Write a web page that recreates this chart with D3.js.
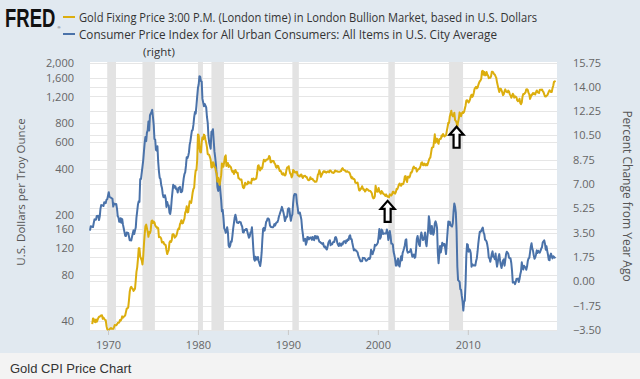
<!DOCTYPE html>
<html>
<head>
<meta charset="utf-8">
<script src="https://cdn.jsdelivr.net/npm/d3@7/dist/d3.min.js"></script>
<style>
  html, body { margin: 0; padding: 0; background: #fff; }
  svg { display: block; }
</style>
</head>
<body>
<svg id="chart" width="640" height="379"></svg>
<script>
// ---------------- DATA ----------------
const goldStart = [1968, 3];   // April 1968 (month index 0-based)
const goldPrices = [
  /*1968*/ 38.0, 41.5, 41.1, 39.5, 39.2, 40.8, 39.4, 40.5, 41.7,
  /*1969*/ 42.5, 42.6, 43.1, 43.4, 43.5, 41.2, 42.0, 41.2, 40.6, 40.4, 36.9, 35.2,
  /*1970*/ 34.9, 35.0, 35.1, 35.6, 35.9, 35.4, 35.4, 35.4, 36.2, 37.5, 37.4, 37.4,
  /*1971*/ 37.9, 38.7, 38.9, 39.0, 40.5, 40.1, 41.0, 42.8, 42.0, 42.5, 42.9, 43.5,
  /*1972*/ 45.8, 48.3, 48.3, 49.0, 54.6, 62.1, 65.7, 67.0, 65.5, 64.9, 62.9, 63.9,
  /*1973*/ 65, 74, 84, 90, 102, 120, 120, 106, 103, 100, 94, 106,
  /*1974*/ 129, 150, 168, 172, 163, 154, 143, 154, 151, 158, 181, 183,
  /*1975*/ 176, 180, 178, 170, 167, 164, 165, 163, 142, 143, 142, 139,
  /*1976*/ 131, 132, 132, 128, 127, 126, 117, 110, 114, 117, 131, 134,
  /*1977*/ 132, 136, 148, 149, 147, 141, 143, 145, 150, 158, 162, 161,
  /*1978*/ 173, 178, 184, 175, 176, 183, 188, 206, 212, 227, 207, 208,
  /*1979*/ 227, 245, 242, 239, 257, 280, 295, 301, 355, 392, 392, 456,
  /*1980*/ 675, 665, 553, 517, 513, 600, 644, 627, 673, 661, 623, 594,
  /*1981*/ 557, 500, 499, 495, 479, 460, 409, 410, 443, 437, 413, 410,
  /*1982*/ 384, 374, 330, 350, 334, 314, 339, 364, 435, 422, 414, 444,
  /*1983*/ 481, 491, 419, 432, 438, 412, 422, 416, 411, 393, 382, 388,
  /*1984*/ 370, 386, 394, 381, 377, 377, 348, 348, 341, 340, 341, 320,
  /*1985*/ 303, 299, 304, 325, 316, 317, 317, 330, 323, 326, 325, 321,
  /*1986*/ 345, 339, 346, 340, 342, 343, 348, 376, 418, 423, 398, 391,
  /*1987*/ 408, 401, 409, 438, 460, 450, 450, 460, 460, 465, 468, 487,
  /*1988*/ 477, 442, 443, 452, 451, 451, 437, 431, 413, 407, 420, 419,
  /*1989*/ 404, 388, 390, 384, 371, 367, 375, 365, 362, 367, 393, 409,
  /*1990*/ 410, 417, 393, 374, 369, 352, 362, 394, 389, 380, 382, 378,
  /*1991*/ 383, 363, 363, 358, 357, 367, 368, 356, 349, 358, 360, 361,
  /*1992*/ 354, 354, 345, 338, 337, 340, 353, 343, 345, 344, 335, 334,
  /*1993*/ 329, 329, 330, 342, 367, 372, 392, 379, 355, 364, 373, 383,
  /*1994*/ 387, 382, 384, 378, 381, 385, 385, 380, 391, 389, 384, 379,
  /*1995*/ 378, 376, 382, 391, 385, 387, 386, 383, 383, 383, 386, 387,
  /*1996*/ 400, 405, 396, 393, 392, 385, 383, 387, 383, 381, 378, 369,
  /*1997*/ 355, 347, 352, 344, 344, 341, 324, 324, 323, 325, 306, 289,
  /*1998*/ 289, 297, 296, 308, 299, 292, 293, 284, 289, 296, 294, 291,
  /*1999*/ 287, 287, 286, 282, 277, 262, 256, 257, 265, 310, 293, 283,
  /*2000*/ 284, 300, 286, 280, 275, 286, 282, 275, 273, 270, 266, 272,
  /*2001*/ 266, 262, 263, 261, 272, 270, 268, 273, 283, 283, 276, 275,
  /*2002*/ 282, 296, 294, 303, 314, 321, 314, 310, 319, 317, 319, 333,
  /*2003*/ 357, 359, 340, 328, 355, 356, 351, 360, 379, 379, 389, 407,
  /*2004*/ 414, 405, 406, 404, 384, 392, 398, 400, 406, 420, 439, 442,
  /*2005*/ 424, 423, 434, 429, 422, 431, 424, 438, 456, 470, 476, 510,
  /*2006*/ 549, 555, 557, 610, 676, 596, 633, 632, 598, 586, 627, 629,
  /*2007*/ 631, 665, 655, 680, 667, 655, 665, 665, 712, 754, 806, 803,
  /*2008*/ 889, 922, 968, 909, 888, 889, 939, 839, 829, 806, 760, 816,
  /*2009*/ 858, 943, 925, 890, 928, 946, 934, 949, 996, 1043, 1127, 1134,
  /*2010*/ 1118, 1095, 1114, 1148, 1205, 1232, 1193, 1215, 1271, 1343, 1370, 1391,
  /*2011*/ 1356, 1372, 1424, 1474, 1512, 1529, 1573, 1756, 1772, 1666, 1739, 1652,
  /*2012*/ 1656, 1742, 1673, 1650, 1585, 1596, 1594, 1630, 1744, 1747, 1722, 1684,
  /*2013*/ 1671, 1627, 1593, 1487, 1414, 1343, 1286, 1347, 1349, 1316, 1275, 1225,
  /*2014*/ 1244, 1300, 1336, 1299, 1287, 1279, 1311, 1296, 1239, 1222, 1176, 1202,
  /*2015*/ 1251, 1227, 1179, 1198, 1199, 1181, 1131, 1117, 1125, 1159, 1086, 1068,
  /*2016*/ 1097, 1200, 1246, 1242, 1260, 1276, 1337, 1341, 1326, 1267, 1238, 1157,
  /*2017*/ 1192, 1234, 1231, 1266, 1246, 1260, 1236, 1283, 1315, 1280, 1275, 1264,
  /*2018*/ 1331, 1331, 1325, 1334, 1303, 1282, 1238, 1202, 1198, 1215, 1221, 1250,
  /*2019*/ 1291, 1320, 1300, 1285, 1284, 1360, 1413, 1500, 1510, 1495
];

const cpiStart = [1968, 0];    // January 1968
const cpiChange = [
  /*1968*/ 3.65, 3.97, 3.94, 3.93, 3.91, 4.20, 4.46, 4.43, 4.44, 4.71, 4.70, 4.72,
  /*1969*/ 4.41, 4.68, 5.22, 5.49, 5.47, 5.46, 5.42, 5.69, 5.67, 5.63, 5.88, 5.90,
  /*1970*/ 6.16, 6.42, 6.09, 6.05, 6.02, 5.98, 5.94, 5.38, 5.60, 5.57, 5.54, 5.57,
  /*1971*/ 5.24, 4.67, 4.62, 4.29, 4.28, 4.54, 4.22, 4.48, 4.08, 3.82, 3.54, 3.27,
  /*1972*/ 3.27, 3.51, 3.50, 3.49, 3.23, 2.96, 2.95, 2.94, 3.19, 3.43, 3.67, 3.41,
  /*1973*/ 3.65, 3.87, 4.59, 5.06, 5.53, 5.76, 5.72, 7.37, 7.36, 7.80, 8.25, 8.71,
  /*1974*/ 9.39, 10.02, 10.39, 10.09, 10.71, 10.86, 11.51, 10.86, 11.95, 12.06, 12.20, 12.34,
  /*1975*/ 11.81, 11.23, 10.25, 10.21, 9.47, 9.40, 9.72, 8.61, 7.90, 7.45, 7.38, 6.94,
  /*1976*/ 6.72, 6.29, 6.07, 6.05, 6.20, 5.97, 5.35, 5.71, 5.48, 5.46, 4.94, 4.86,
  /*1977*/ 5.21, 5.91, 6.42, 6.95, 6.73, 6.86, 6.83, 6.62, 6.61, 6.39, 6.73, 6.70,
  /*1978*/ 6.80, 6.43, 6.42, 6.49, 6.95, 7.41, 7.71, 7.84, 8.31, 8.93, 8.87, 9.02,
  /*1979*/ 9.28, 9.86, 10.09, 10.49, 10.85, 10.89, 11.26, 11.82, 12.18, 12.07, 12.65, 13.29,
  /*1980*/ 13.91, 14.18, 14.76, 14.73, 14.41, 14.38, 13.13, 12.87, 12.60, 12.77, 12.65, 12.52,
  /*1981*/ 11.83, 11.41, 10.49, 10.00, 9.78, 9.55, 10.76, 10.80, 10.95, 10.14, 9.35, 8.92,
  /*1982*/ 8.39, 7.62, 6.78, 6.51, 6.68, 7.06, 6.44, 5.85, 5.04, 5.14, 4.59, 3.83,
  /*1983*/ 3.71, 3.49, 3.60, 3.90, 3.55, 2.58, 2.46, 2.56, 2.86, 2.85, 3.27, 3.79,
  /*1984*/ 4.19, 4.60, 4.80, 4.56, 4.23, 4.22, 4.20, 4.29, 4.27, 4.26, 4.05, 3.95,
  /*1985*/ 3.53, 3.52, 3.70, 3.69, 3.76, 3.76, 3.55, 3.35, 3.14, 3.23, 3.51, 3.55,
  /*1986*/ 3.89, 3.11, 2.26, 1.59, 1.49, 1.77, 1.58, 1.57, 1.75, 1.47, 1.28, 1.10,
  /*1987*/ 1.46, 2.10, 3.03, 3.78, 3.86, 3.65, 3.93, 4.28, 4.36, 4.53, 4.53, 4.43,
  /*1988*/ 4.04, 3.93, 3.91, 3.90, 3.89, 3.96, 4.12, 4.02, 4.17, 4.25, 4.25, 4.42,
  /*1989*/ 4.67, 4.83, 4.99, 5.14, 5.36, 5.17, 4.98, 4.71, 4.34, 4.49, 4.66, 4.65,
  /*1990*/ 5.20, 5.26, 5.23, 4.70, 4.36, 4.67, 4.82, 5.62, 6.16, 6.29, 6.27, 6.25,
  /*1991*/ 5.65, 5.31, 4.90, 4.89, 4.96, 4.70, 4.45, 3.80, 3.39, 2.92, 2.99, 3.06,
  /*1992*/ 2.64, 2.81, 3.19, 3.18, 3.02, 3.09, 3.16, 3.15, 2.99, 3.20, 3.04, 2.97,
  /*1993*/ 3.26, 3.25, 3.09, 3.24, 3.22, 3.00, 2.85, 2.84, 2.76, 2.76, 2.68, 2.75,
  /*1994*/ 2.52, 2.45, 2.51, 2.36, 2.29, 2.49, 2.77, 2.90, 2.96, 2.60, 2.67, 2.67,
  /*1995*/ 2.80, 2.86, 2.84, 3.15, 3.19, 3.04, 2.75, 2.62, 2.54, 2.75, 2.61, 2.56,
  /*1996*/ 2.73, 2.65, 2.84, 2.89, 2.89, 2.75, 2.95, 2.89, 3.02, 2.98, 3.26, 3.32,
  /*1997*/ 3.04, 3.03, 2.76, 2.50, 2.23, 2.30, 2.23, 2.23, 2.15, 2.08, 1.83, 1.70,
  /*1998*/ 1.57, 1.44, 1.44, 1.44, 1.69, 1.68, 1.68, 1.62, 1.49, 1.49, 1.55, 1.61,
  /*1999*/ 1.67, 1.61, 1.73, 2.28, 2.09, 1.96, 2.14, 2.26, 2.63, 2.56, 2.62, 2.68,
  /*2000*/ 2.79, 3.22, 3.76, 3.07, 3.19, 3.73, 3.66, 3.41, 3.45, 3.45, 3.45, 3.44,
  /*2001*/ 3.73, 3.53, 2.98, 3.22, 3.62, 3.25, 2.72, 2.72, 2.65, 2.13, 1.90, 1.60,
  /*2002*/ 1.14, 1.14, 1.48, 1.64, 1.18, 1.07, 1.46, 1.80, 1.51, 2.03, 2.20, 2.38,
  /*2003*/ 2.60, 2.98, 3.02, 2.22, 2.06, 2.11, 2.11, 2.16, 2.32, 2.04, 1.77, 1.88,
  /*2004*/ 1.93, 1.69, 1.74, 2.29, 3.05, 3.27, 2.99, 2.65, 2.54, 3.19, 3.52, 3.26,
  /*2005*/ 2.97, 3.01, 3.15, 3.51, 2.80, 2.53, 3.17, 3.64, 4.69, 4.35, 3.46, 3.42,
  /*2006*/ 3.99, 3.60, 3.36, 3.55, 4.17, 4.32, 4.15, 3.82, 2.06, 1.31, 1.97, 2.54,
  /*2007*/ 2.08, 2.42, 2.78, 2.57, 2.69, 2.69, 2.36, 1.97, 2.76, 3.54, 4.31, 4.08,
  /*2008*/ 4.28, 4.03, 4.00, 3.94, 4.18, 5.02, 5.60, 5.37, 4.94, 3.66, 1.07, 0.09,
  /*2009*/ 0.03, -0.02, -0.56, -0.61, -1.05, -1.43, -2.10, -1.48, -1.38, -0.18, 1.84, 2.68,
  /*2010*/ 2.63, 2.14, 2.31, 2.24, 2.02, 1.05, 1.24, 1.15, 1.14, 1.17, 1.14, 1.44,
  /*2011*/ 1.67, 2.15, 2.69, 3.16, 3.57, 3.56, 3.63, 3.77, 3.87, 3.53, 3.39, 3.00,
  /*2012*/ 2.96, 2.87, 2.65, 2.30, 1.70, 1.66, 1.41, 1.69, 1.99, 2.16, 1.77, 1.74,
  /*2013*/ 1.59, 2.00, 1.48, 1.06, 1.36, 1.75, 1.96, 1.52, 1.18, 0.96, 1.24, 1.50,
  /*2014*/ 1.58, 1.13, 1.51, 1.95, 2.13, 2.07, 1.99, 1.70, 1.66, 1.66, 1.32, 0.76,
  /*2015*/ -0.09, -0.03, -0.07, -0.20, -0.04, 0.18, 0.17, 0.20, -0.04, 0.17, 0.50, 0.73,
  /*2016*/ 1.37, 1.02, 0.85, 1.13, 1.02, 1.01, 0.83, 1.06, 1.46, 1.64, 1.69, 2.07,
  /*2017*/ 2.50, 2.74, 2.38, 2.20, 1.87, 1.63, 1.73, 1.94, 2.23, 2.04, 2.20, 2.11,
  /*2018*/ 2.07, 2.21, 2.36, 2.46, 2.80, 2.87, 2.95, 2.70, 2.28, 2.52, 2.18, 1.91,
  /*2019*/ 1.55, 1.52, 1.86, 2.00, 1.79, 1.65, 1.81, 1.75, 1.71, 1.76
];

const recessions = [
  ["1969-12", "1970-11"], ["1973-11", "1975-03"], ["1980-01", "1980-07"],
  ["1981-07", "1982-11"], ["1990-07", "1991-03"], ["2001-03", "2001-11"],
  ["2007-12", "2009-06"]
];

const goldTicks = [40, 80, 120, 160, 200, 400, 600, 800, 1200, 1600, 2000];
const cpiTicks = [-3.5, -1.75, 0, 1.75, 3.5, 5.25, 7, 8.75, 10.5, 12.25, 14, 15.75];
const yearTicks = [1970, 1980, 1990, 2000, 2010];
const xDomain = ["1968-01", "2019-12"];
const arrowDates = ["2001-02", "2008-10"];

const legendItems = [
  { text: "Gold Fixing Price 3:00 P.M. (London time) in London Bullion Market, based in U.S. Dollars", color: "#dcae0e", width: 458 },
  { text: "Consumer Price Index for All Urban Consumers: All Items in U.S. City Average", color: "#4a72a9", width: 418 }
];
const leftTitle = "U.S. Dollars per Troy Ounce";
const rightTitle = "Percent Change from Year Ago";
const caption = "Gold CPI Price Chart";

// ---------------- DRAW ----------------
const parseM = d3.utcParse("%Y-%m");
const monthDate = (start, i) => new Date(Date.UTC(start[0], start[1] + i, 1));

const svg = d3.select("#chart");
const W = 640, H = 379;
const plot = { left: 90, right: 557, top: 62, bottom: 330 };

svg.append("rect").attr("width", W).attr("height", 353).attr("fill", "#e1e9f0");
svg.append("rect").attr("y", 353).attr("width", W).attr("height", H - 353).attr("fill", "#f3f3f3");

const x = d3.scaleUtc().domain(xDomain.map(parseM)).range([plot.left, plot.right]);
const yG = d3.scaleLog().domain([34.8, 2024]).range([plot.bottom, plot.top]);
const yC = d3.scaleLinear().domain([-3.5, 15.75]).range([plot.bottom, plot.top + 0.5]);

svg.append("rect").attr("x", plot.left).attr("y", plot.top)
  .attr("width", plot.right - plot.left).attr("height", plot.bottom - plot.top)
  .attr("fill", "#ffffff");

// gridlines (left and right axes)
const grid = svg.append("g").attr("stroke", "#e6e6e6").attr("stroke-width", 1);
goldTicks.forEach(t => grid.append("line")
  .attr("x1", plot.left).attr("x2", plot.right)
  .attr("y1", Math.round(yG(t)) + 0.5).attr("y2", Math.round(yG(t)) + 0.5));
cpiTicks.forEach(t => grid.append("line")
  .attr("x1", plot.left).attr("x2", plot.right)
  .attr("y1", Math.round(yC(t)) + 0.5).attr("y2", Math.round(yC(t)) + 0.5));

// recession bands
svg.append("g").selectAll("rect").data(recessions).join("rect")
  .attr("x", d => x(parseM(d[0])))
  .attr("width", d => x(parseM(d[1])) - x(parseM(d[0])) + 0.5)
  .attr("y", plot.top).attr("height", plot.bottom - plot.top)
  .attr("fill", "#e3e3e3");

// lines
const goldData = goldPrices.map((v, i) => ({ date: monthDate(goldStart, i), v }));
const cpiData = cpiChange.map((v, i) => ({ date: monthDate(cpiStart, i), v }));

svg.append("path").datum(cpiData)
  .attr("fill", "none").attr("stroke", legendItems[1].color).attr("stroke-width", 2)
  .attr("stroke-linejoin", "round")
  .attr("d", d3.line().x(d => x(d.date)).y(d => yC(d.v)));
svg.append("path").datum(goldData)
  .attr("fill", "none").attr("stroke", legendItems[0].color).attr("stroke-width", 2)
  .attr("stroke-linejoin", "round")
  .attr("d", d3.line().x(d => x(d.date)).y(d => yG(d.v)));

// arrows annotations
const arrowPath = "M0,0 L7,8 L3,8 L3,21 L-3,21 L-3,8 L-7,8 Z";
arrowDates.forEach(ds => {
  const dt = parseM(ds);
  const g = goldData.find(d => +d.date === +dt);
  svg.append("path").attr("d", arrowPath)
    .attr("transform", `translate(${x(dt)},${yG(g.v) + 4})`)
    .attr("fill", "#fff").attr("stroke", "#000").attr("stroke-width", 2.2)
    .attr("stroke-linejoin", "miter");
});

// axes
const font = "'Open Sans', 'DejaVu Sans', sans-serif";
const xAxis = svg.append("g").attr("transform", `translate(0,${plot.bottom})`)
  .call(d3.axisBottom(x).tickValues(yearTicks.map(y => new Date(Date.UTC(y, 0, 1))))
    .tickFormat(d3.utcFormat("%Y")).tickSize(5).tickPadding(6));
xAxis.select(".domain").remove();
xAxis.selectAll("line").attr("stroke", "#c8c8c8");
xAxis.selectAll("text").attr("fill", "#666").style("font", `11px ${font}`);

const lAxis = svg.append("g").attr("transform", `translate(${plot.left - 14},0)`)
  .call(d3.axisLeft(yG).tickValues(goldTicks).tickFormat(d3.format(",")).tickSize(0).tickPadding(2));
lAxis.select(".domain").remove();
lAxis.selectAll("text").attr("fill", "#666").style("font", `11px ${font}`);

const rAxis = svg.append("g").attr("transform", `translate(${plot.right + 14},0)`)
  .call(d3.axisRight(yC).tickValues(cpiTicks).tickFormat(d3.format(".2f")).tickSize(0).tickPadding(2));
rAxis.select(".domain").remove();
rAxis.selectAll("text").attr("fill", "#666").style("font", `11px ${font}`);

// axis titles
svg.append("text").attr("transform", "translate(25,192) rotate(-90)")
  .attr("text-anchor", "middle").attr("fill", "#555").style("font", `11.5px ${font}`)
  .text(leftTitle);
svg.append("text").attr("transform", "translate(623,196) rotate(90)")
  .attr("text-anchor", "middle").attr("fill", "#555").style("font", `12px ${font}`)
  .text(rightTitle);

// logo (horizontally condensed via transform)
svg.append("text").attr("transform", "translate(5,27) scale(0.74,1)")
  .style("font", "bold 25px 'Liberation Sans', Arial, sans-serif")
  .attr("fill", "#111").text("FRED");
svg.append("text").attr("x", 57.5).attr("y", 29)
  .style("font", "4px 'Liberation Sans', Arial, sans-serif").attr("fill", "#333").text("®");

// legend
legendItems.forEach((d, i) => {
  const y = 17 + i * 17;
  svg.append("line").attr("x1", 63).attr("x2", 75).attr("y1", y).attr("y2", y)
    .attr("stroke", d.color).attr("stroke-width", 2);
  svg.append("text").attr("x", 79).attr("y", y + 5)
    .attr("textLength", d.width).attr("lengthAdjust", "spacingAndGlyphs")
    .attr("fill", "#333").style("font", `12px ${font}`).text(d.text);
});
svg.append("text").attr("x", 143).attr("y", 56)
  .attr("fill", "#333").style("font", `11.5px ${font}`).text("(right)");

// caption
svg.append("text").attr("x", 10).attr("y", 373)
  .attr("fill", "#333").style("font", "13px 'Liberation Sans', Arial, sans-serif").text(caption);
</script>
</body>
</html>
